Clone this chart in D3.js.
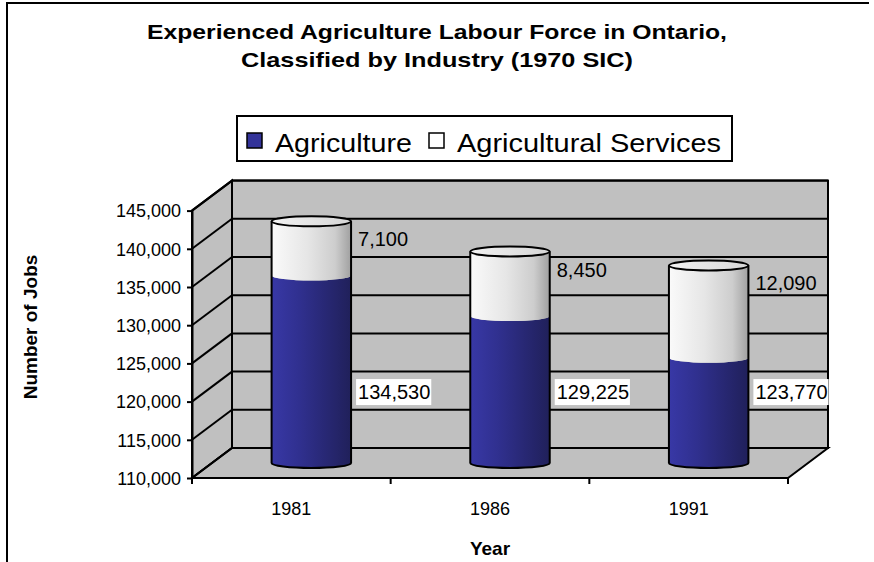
<!DOCTYPE html>
<html>
<head>
<meta charset="UTF-8">
<title>Experienced Agriculture Labour Force in Ontario</title>
<style>
html, body {
    margin: 0;
    padding: 0;
    background-color: #FFFFFF;
}
svg text {
    font-family: "Liberation Sans", Arial, sans-serif;
    fill: #000;
}
.wall {
    fill: #C0C0C0;
    stroke: #000;
    stroke-width: 2;
}
.grid {
    stroke: #000;
    stroke-width: 2;
}
</style>
</head>
<body>
<div class="chart"></div>
<script src="https://cdn.jsdelivr.net/npm/d3@7/dist/d3.min.js"></script>
<script>
const years = ['1981', '1986', '1991'];
const agriculture = [134530, 129225, 123770];
const services = [7100, 8450, 12090];
const yTicks = [110000, 115000, 120000, 125000, 130000, 135000, 140000, 145000];
const seriesNames = ['Agriculture', 'Agricultural Services'];

let width = 874, height = 562;
let plotLeft = 192, plotRight = 788, plotBottom = 478, plotTop = 210.6;
let depthX = 40, depthY = -30;

let svg = d3.select('.chart').append('svg')
    .attr('width', width)
    .attr('height', height);

let defs = svg.append('defs');
let blueGrad = defs.append('linearGradient').attr('id', 'blue');
blueGrad.append('stop').attr('offset', '0%').attr('stop-color', '#3838A6');
blueGrad.append('stop').attr('offset', '35%').attr('stop-color', '#30308F');
blueGrad.append('stop').attr('offset', '100%').attr('stop-color', '#20205A');
let whiteGrad = defs.append('linearGradient').attr('id', 'white');
whiteGrad.append('stop').attr('offset', '0%').attr('stop-color', '#FAFAFA');
whiteGrad.append('stop').attr('offset', '45%').attr('stop-color', '#E6E6E6');
whiteGrad.append('stop').attr('offset', '80%').attr('stop-color', '#CDCDCD');
whiteGrad.append('stop').attr('offset', '100%').attr('stop-color', '#A0A0A0');
let capGrad = defs.append('linearGradient').attr('id', 'cap');
capGrad.append('stop').attr('offset', '0%').attr('stop-color', '#F2F2F2');
capGrad.append('stop').attr('offset', '100%').attr('stop-color', '#D6D6D6');

// frame (only top and left edges show)
svg.append('path')
    .attr('d', 'M7,562 L7,3 L869,3')
    .attr('fill', 'none')
    .attr('stroke', '#000')
    .attr('stroke-width', 2);

// title
let titleLines = ['Experienced Agriculture Labour Force in Ontario,', 'Classified by Industry (1970 SIC)'];
let titleWidths = [580, 392];
svg.selectAll('.title')
    .data(titleLines)
    .enter().append('text')
    .attr('class', 'title')
    .attr('x', 437)
    .attr('y', (d, i) => 39 + i * 28)
    .attr('text-anchor', 'middle')
    .attr('font-size', 21)
    .attr('font-weight', 'bold')
    .attr('textLength', (d, i) => titleWidths[i])
    .attr('lengthAdjust', 'spacingAndGlyphs')
    .text(d => d);

let yScale = d3.scaleLinear()
    .domain([110000, 145000])
    .range([plotBottom, plotTop]);

let xScale = d3.scaleBand()
    .domain(years)
    .range([plotLeft, plotRight]);

let bw = xScale.bandwidth() / 2.5;
let rx = bw / 2, ry = 5;
let fmt = d3.format(',');

let yTop = yScale(145000), yBot = yScale(110000);

// side wall
svg.append('path')
    .attr('class', 'wall')
    .attr('d', `M${plotLeft},${yBot} L${plotLeft},${yTop} L${plotLeft + depthX},${yTop + depthY} L${plotLeft + depthX},${yBot + depthY} Z`);
// back wall
svg.append('rect')
    .attr('class', 'wall')
    .attr('x', plotLeft + depthX)
    .attr('y', yTop + depthY)
    .attr('width', plotRight - plotLeft)
    .attr('height', yBot - yTop);
// floor
svg.append('path')
    .attr('class', 'wall')
    .attr('d', `M${plotLeft},${yBot} L${plotRight},${yBot} L${plotRight + depthX},${yBot + depthY} L${plotLeft + depthX},${yBot + depthY} Z`);

// gridlines on walls
let grid = svg.append('g');
grid.selectAll('.gback')
    .data(yTicks)
    .enter().append('line')
    .attr('class', 'grid')
    .attr('x1', plotLeft + depthX)
    .attr('x2', plotRight + depthX)
    .attr('y1', d => yScale(d) + depthY)
    .attr('y2', d => yScale(d) + depthY);
grid.selectAll('.gside')
    .data(yTicks)
    .enter().append('line')
    .attr('class', 'grid')
    .attr('x1', plotLeft)
    .attr('x2', plotLeft + depthX)
    .attr('y1', d => yScale(d))
    .attr('y2', d => yScale(d) + depthY);

// y axis
let yAxis = svg.append('g')
    .attr('transform', `translate(${plotLeft},0)`)
    .call(d3.axisLeft(yScale).tickValues(yTicks).tickFormat(fmt).tickSize(5).tickSizeOuter(0));
yAxis.select('.domain').attr('stroke', '#000').attr('stroke-width', 2);
yAxis.selectAll('.tick line').attr('stroke', '#000').attr('stroke-width', 2);
yAxis.selectAll('.tick text')
    .attr('font-family', '"Liberation Sans", Arial, sans-serif')
    .attr('font-size', 18)
    .attr('fill', '#000')
    .attr('x', -11)
    .attr('dy', '0.35em');

// x axis: front floor edge with ticks at category boundaries
svg.append('line')
    .attr('x1', plotLeft).attr('x2', plotRight)
    .attr('y1', yBot).attr('y2', yBot)
    .attr('stroke', '#000').attr('stroke-width', 2);
let bounds = years.map(d => xScale(d)).concat([plotRight]);
svg.selectAll('.xtick')
    .data(bounds)
    .enter().append('line')
    .attr('x1', d => d).attr('x2', d => d)
    .attr('y1', yBot).attr('y2', yBot + 6)
    .attr('stroke', '#000').attr('stroke-width', 2);
svg.selectAll('.xlabel')
    .data(years)
    .enter().append('text')
    .attr('x', d => xScale(d) + xScale.bandwidth() / 2)
    .attr('y', 515)
    .attr('text-anchor', 'middle')
    .attr('font-size', 18)
    .text(d => d);

// cylinders at half depth
let cx = d => xScale(d) + xScale.bandwidth() / 2 + depthX / 2;
let py = v => yScale(v) + depthY / 2;

function body(x, yt, yb) {
    let x0 = x - rx, x1 = x + rx;
    return `M${x0},${yt} L${x0},${yb} A${rx},${ry} 0 0 0 ${x1},${yb} L${x1},${yt} A${rx},${ry} 0 0 1 ${x0},${yt} Z`;
}

let bars = svg.selectAll('.bar')
    .data(years)
    .enter().append('g')
    .attr('class', 'bar');

bars.append('path')
    .attr('d', (d, i) => body(cx(d), py(agriculture[i]), py(110000)))
    .attr('fill', 'url(#blue)');
bars.append('path')
    .attr('d', (d, i) => body(cx(d), py(agriculture[i] + services[i]), py(agriculture[i])))
    .attr('fill', 'url(#white)');
bars.append('path')
    .attr('d', (d, i) => {
        let x = cx(d), yt = py(agriculture[i] + services[i]), yb = py(110000);
        return `M${x - rx},${yt} L${x - rx},${yb} A${rx},${ry} 0 0 0 ${x + rx},${yb} L${x + rx},${yt}`;
    })
    .attr('fill', 'none')
    .attr('stroke', '#000')
    .attr('stroke-width', 2);
bars.append('ellipse')
    .attr('cx', d => cx(d))
    .attr('cy', (d, i) => py(agriculture[i] + services[i]))
    .attr('rx', rx)
    .attr('ry', ry)
    .attr('fill', 'url(#cap)')
    .attr('stroke', '#000')
    .attr('stroke-width', 2);

// data labels
let labelX = d => cx(d) + rx + 7;
let agriLabelY = yScale(121250);
bars.append('rect')
    .attr('x', d => labelX(d) - 2)
    .attr('y', agriLabelY - 13)
    .attr('width', (d, i) => fmt(agriculture[i]).length * 10.6 + 1)
    .attr('height', 26)
    .attr('fill', '#FFF');
bars.append('text')
    .attr('x', d => labelX(d))
    .attr('y', agriLabelY + 7)
    .attr('font-size', 20)
    .text((d, i) => fmt(agriculture[i]));
bars.append('text')
    .attr('x', d => labelX(d))
    .attr('y', (d, i) => py(agriculture[i] + services[i]) + 25)
    .attr('font-size', 20)
    .text((d, i) => fmt(services[i]));

// legend
let legend = svg.append('g');
legend.append('rect')
    .attr('x', 237).attr('y', 116)
    .attr('width', 495).attr('height', 45)
    .attr('fill', '#FFF')
    .attr('stroke', '#000')
    .attr('stroke-width', 2);
let legendX = [247, 429], legendW = [137, 264], swatch = ['#333399', '#FFFFFF'];
legend.selectAll('.sw')
    .data(seriesNames)
    .enter().append('rect')
    .attr('x', (d, i) => legendX[i])
    .attr('y', 133)
    .attr('width', 15).attr('height', 15)
    .attr('fill', (d, i) => swatch[i])
    .attr('stroke', '#000')
    .attr('stroke-width', 1.5);
legend.selectAll('.lt')
    .data(seriesNames)
    .enter().append('text')
    .attr('x', (d, i) => legendX[i] + 28)
    .attr('y', 152)
    .attr('font-size', 25)
    .attr('textLength', (d, i) => legendW[i])
    .attr('lengthAdjust', 'spacingAndGlyphs')
    .text(d => d);

// axis titles
svg.append('text')
    .attr('transform', 'translate(37,327) rotate(-90)')
    .attr('text-anchor', 'middle')
    .attr('font-size', 19)
    .attr('font-weight', 'bold')
    .text('Number of Jobs');
svg.append('text')
    .attr('x', 490)
    .attr('y', 555)
    .attr('text-anchor', 'middle')
    .attr('font-size', 19)
    .attr('font-weight', 'bold')
    .text('Year');
</script>
</body>
</html>
